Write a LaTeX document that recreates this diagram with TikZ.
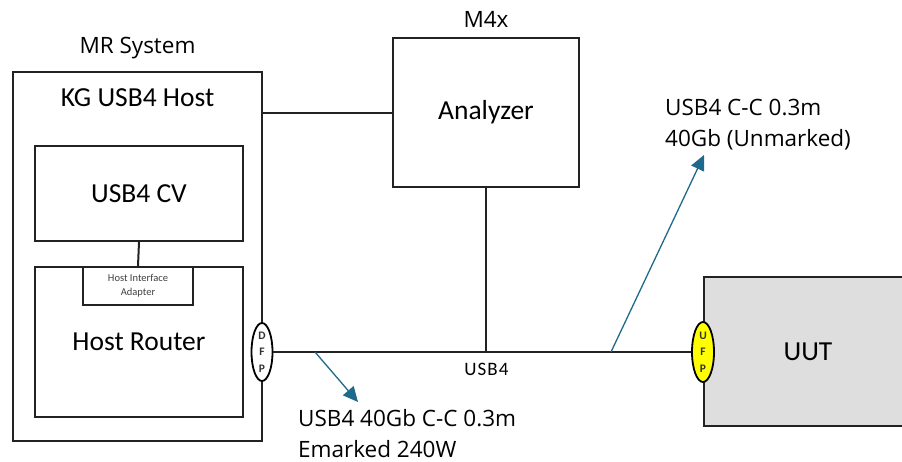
\documentclass[tikz,border=0pt]{standalone}
\usepackage{fontspec}
\setmainfont{Carlito}
\newfontfamily\notefont{Open Sans}
\usetikzlibrary{arrows.meta,positioning,shapes.geometric}
\definecolor{lineGray}{HTML}{222222}
\definecolor{uutGray}{HTML}{DEDEDE}
\definecolor{portYellow}{HTML}{FFFF00}
\definecolor{cableTeal}{HTML}{1F6A8C}
\tikzset{
  % Plain boxes of the test setup.
  blk/.style={
    draw=lineGray, fill=white, line width=2pt, inner sep=0pt,
    align=center, font=\fontsize{27.5}{32}\selectfont
  },
  % Title inside a box, at its top.
  blktitle/.style={
    anchor=center, inner sep=0pt, font=\fontsize{27.5}{32}\selectfont
  },
  % Small port ovals on a box border.
  port/.style={
    ellipse, draw=black, fill=white, line width=1.8pt, inner sep=0pt,
    minimum width=21pt, minimum height=58pt, align=center, text=black!80,
    font=\fontsize{11.5}{16.5}\selectfont\bfseries
  },
  % Links between boxes.
  wire/.style={draw=lineGray, line width=2pt},
  % Callout arrows for the cables.
  cable/.style={
    -{Triangle[length=15pt,width=14pt]}, draw=cableTeal, line width=1.3pt
  },
  % Text outside the boxes.
  note/.style={
    font=\notefont\fontsize{22.5}{31}\selectfont, align=left, inner sep=0pt
  },
}

\begin{document}
\begin{tikzpicture}[x=1pt,y=-1pt]
  \useasboundingbox (0,0) rectangle (902,461);
  \clip (0,0) rectangle (902,461);

  \node[blk, minimum width=249pt, minimum height=369pt,
    label={[blktitle,yshift=-27pt]north:KG USB4 Host},
    label={[note,anchor=center,yshift=23pt]north:MR System}] (host) at (137.5,256.5) {};
  \node[blk, minimum width=208pt, minimum height=95pt] (cv) at (139,193.5) {USB4 CV};
  \node[blk, minimum width=208pt, minimum height=150pt] (hr) at (139,342) {Host Router};
  \node[blk, minimum width=110pt, minimum height=38pt, line width=1.8pt, text=black!75,
    font=\fontsize{10.5}{14}\selectfont] (adp) at (138,286) {Host Interface\\Adapter};

  \node[blk, minimum width=186pt, minimum height=149pt,
    label={[note,anchor=center,yshift=18pt]north:M4x}] (ana) at (486,112.5) {Analyzer};
  \node[blk, fill=uutGray, minimum width=208pt, minimum height=149pt] (uut) at (808,351.5) {UUT};

  \node[port] (dfp) at (262,352) {D\\F\\P};
  \node[port, fill=portYellow, minimum width=22pt, minimum height=60pt] (ufp) at (703,352) {U\\F\\P};

  \draw[wire] (host.east |- ana.west) -- (ana.west);
  \draw[wire] (cv.south) -- (adp.north);
  \draw[wire] (dfp.east) -- node[pos=0.51, below=10pt, inner sep=0pt,
    font=\fontsize{19}{21}\selectfont\addfontfeature{LetterSpace=6}] (usbl) {USB4} (ufp.west);
  \draw[wire] (ana.south) -- (ana.south |- dfp.east);

  \coordinate (tapA) at (315,352);
  \coordinate (tipA) at (358,402);
  \coordinate (tapB) at (611,352);
  \coordinate (tipB) at (704,155);
  \draw[cable] (tapA) -- (tipA);
  \draw[cable] (tapB) -- (tipB);

  \node[note, anchor=north west] (cblA) at (298,409) {USB4 40Gb C-C 0.3m\\Emarked 240W};
  \node[note, anchor=south west] (cblB) at (665,150) {USB4 C-C 0.3m\\40Gb (Unmarked)};
\end{tikzpicture}
\end{document}
